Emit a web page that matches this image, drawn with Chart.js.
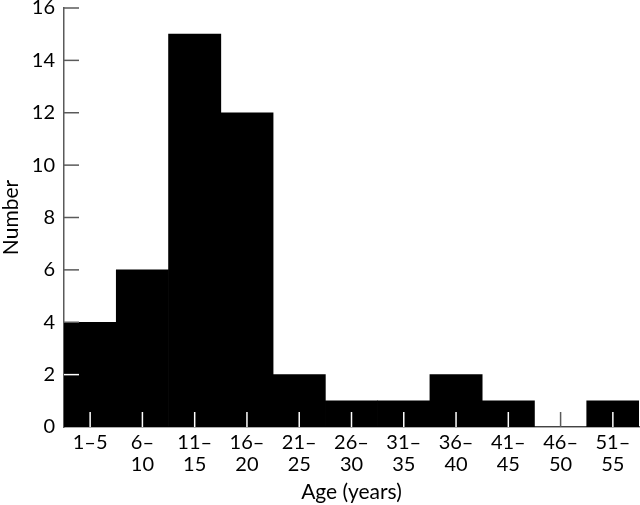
<!DOCTYPE html>
<html>
<head>
<meta charset="utf-8">
<script src="https://cdn.jsdelivr.net/npm/chart.js@4/dist/chart.umd.min.js"></script>
<style>
  html, body { margin: 0; padding: 0; background: #fff; }
  #wrap { width: 640px; height: 505px; }
</style>
</head>
<body>
<div id="wrap"><canvas id="ageChart"></canvas></div>
<script>
let ageGroups = [['1–5'], ['6–', '10'], ['11–', '15'], ['16–', '20'], ['21–', '25'], ['26–', '30'],
                 ['31–', '35'], ['36–', '40'], ['41–', '45'], ['46–', '50'], ['51–', '55']];
let counts = [4, 6, 15, 12, 2, 1, 1, 2, 1, 0, 1];
let yTicks = [0, 2, 4, 6, 8, 10, 12, 14, 16];

let axisGrey = '#5a5a5a';
let fontFamily = 'Lato, "Noto Sans", sans-serif';

// tick marks are drawn pointing into the plot, white where they sit on a bar
let innerTicks = {
    id: 'innerTicks',
    afterDatasetsDraw: function (chart) {
        let ctx = chart.ctx;
        let x = chart.scales.x;
        let y = chart.scales.y;
        let len = 15;
        ctx.save();
        ctx.lineWidth = 1.5;
        counts.forEach(function (c, i) {
            let px = x.getPixelForTick(i);
            ctx.strokeStyle = c > 0 ? '#fff' : axisGrey;
            ctx.beginPath();
            ctx.moveTo(px, y.bottom);
            ctx.lineTo(px, y.bottom - len);
            ctx.stroke();
        });
        yTicks.forEach(function (v) {
            if (v === 0) return;
            let py = y.getPixelForValue(v);
            ctx.strokeStyle = v < counts[0] ? '#fff' : axisGrey;
            ctx.beginPath();
            ctx.moveTo(x.left, py);
            ctx.lineTo(x.left + len, py);
            ctx.stroke();
        });
        ctx.restore();
    }
};

new Chart(document.getElementById('ageChart').getContext('2d'), {
    type: 'bar',
    data: {
        labels: ageGroups,
        datasets: [{
            data: counts,
            backgroundColor: '#000',
            borderWidth: 0,
            barPercentage: 1,
            categoryPercentage: 1
        }]
    },
    options: {
        responsive: true,
        maintainAspectRatio: false,
        animation: false,
        layout: { padding: { top: 0, right: 1, left: 0, bottom: 0 } },
        plugins: {
            legend: { display: false },
            tooltip: { enabled: false }
        },
        scales: {
            x: {
                afterFit: function (scale) {
                    scale.height = 78;
                    scale.paddingLeft = 0;
                    scale.paddingRight = 0;
                },
                grid: { display: false, drawTicks: false },
                border: { display: true, color: axisGrey, width: 1.5 },
                ticks: {
                    color: '#000',
                    padding: 5,
                    maxRotation: 0,
                    autoSkip: false,
                    font: { family: fontFamily, size: 20, lineHeight: 1.1 }
                },
                title: {
                    display: true,
                    text: 'Age (years)',
                    color: '#000',
                    padding: { top: 0, bottom: 1 },
                    font: { family: fontFamily, size: 21, lineHeight: 1.1 }
                }
            },
            y: {
                min: 0,
                max: 16,
                afterBuildTicks: function (scale) {
                    scale.ticks = yTicks.map(function (v) { return { value: v }; });
                },
                afterFit: function (scale) {
                    scale.width = 64;
                    scale.paddingTop = 8;
                    scale.paddingBottom = 0;
                },
                grid: { display: false, drawTicks: false },
                border: { display: true, color: axisGrey, width: 1.5 },
                ticks: {
                    color: '#000',
                    padding: 9,
                    font: { family: fontFamily, size: 20 }
                },
                title: {
                    display: true,
                    text: 'Number',
                    color: '#000',
                    padding: { top: 0, bottom: 0 },
                    font: { family: fontFamily, size: 21, lineHeight: 1.1 }
                }
            }
        }
    },
    plugins: [innerTicks]
});
</script>
</body>
</html>
